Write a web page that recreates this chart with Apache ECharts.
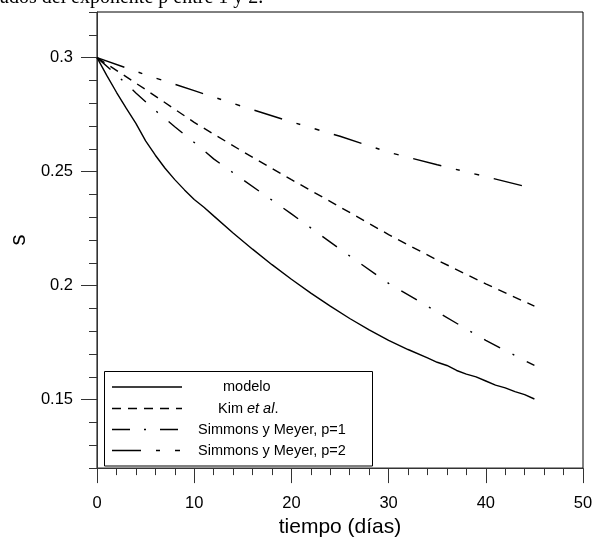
<!DOCTYPE html>
<html>
<head>
<meta charset="utf-8">
<script src="https://cdn.jsdelivr.net/npm/echarts@6/dist/echarts.min.js"></script>
<style>html,body{margin:0;padding:0;background:#fff}#c{width:603px;height:543px}</style>
</head>
<body>
<div id="c"></div>
<script>
// ---- data ----
const modeloDays = [0,1,2,3,4,5,6,7,8,9,10,11,12,14,16,18,20,22,24,26,28,30,32,34,35,36,37,38,39,40,41,42,43,44,45];
const modeloS = [0.3,0.2922,0.2848,0.2778,0.2712,0.2635,0.2572,0.2515,0.2465,0.2420,0.2378,0.2344,0.2306,0.2231,0.2160,0.2092,0.2028,0.1967,0.1910,0.1856,0.1806,0.1760,0.1720,0.1683,0.1664,0.1650,0.1628,0.1612,0.1600,0.1582,0.1564,0.1552,0.1535,0.1522,0.1503];
const kimDays = [0,5,10,15,20,25,30,35,40,45];
const kimS = [0.3,0.2860,0.2716,0.2588,0.2465,0.2345,0.2224,0.2112,0.2008,0.1910];
const p1Days = [0,2,4,6,8,10,12,15,20,25,30,35,40,45];
const p1S = [0.3,0.2925,0.2845,0.2768,0.2697,0.2628,0.2556,0.2465,0.2315,0.2160,0.2010,0.1885,0.1760,0.1650];
const p2Days = [0,5,10,15,20,25,30,35,40,45];
const p2S = [0.3,0.2925,0.2855,0.2785,0.2718,0.2655,0.2585,0.2530,0.2478,0.2425];
const seriesNames = ['modelo','Kim et al.','Simmons y Meyer, p=1','Simmons y Meyer, p=2'];
const yMajorTicks = [0.15,0.2,0.25,0.3];

const pair = (xs, ys) => xs.map((x, i) => [x, ys[i]]);
const dashes = {
  solid: 'solid',
  kim: [9,7],
  p1: [18,14,2,14],
  p2: [29,15,4,15,5,15]
};

const chart = echarts.init(document.getElementById('c'), null, {renderer:'canvas'});
const FONT = 'Liberation Sans';
const axisCol = '#333';

const L = 95.5, R = 583, T = 12, B = 476.7;

function lineSeries(name, data, type){
  return {
    name, type:'line', data, xAxisIndex:0, yAxisIndex:0,
    symbol:'none', smooth:false, silent:true,
    lineStyle:{color:'#000', width:1.4, type}
  };
}

const legendRows = [
  {y:387, dash:null, text:'modelo', tx:223},
  {y:408.5, dash:dashes.kim, text:'{n|Kim }{i|et al}{n|.}', tx:218},
  {y:429.5, dash:dashes.p1, text:'Simmons y Meyer, p=1', tx:198},
  {y:450.5, dash:dashes.p2, text:'Simmons y Meyer, p=2', tx:198}
];
const legendChildren = [{
  type:'rect', shape:{x:104.5, y:371.5, width:268, height:94.5},
  style:{fill:'#fff', stroke:'#000', lineWidth:1}
}];
legendRows.forEach(r => {
  legendChildren.push({
    type:'line', shape:{x1:112, y1:r.y, x2:182, y2:r.y},
    style:{stroke:'#000', lineWidth:1.4, lineDash:r.dash || null}
  });
  legendChildren.push({
    type:'text', x:r.tx, y:r.y,
    style:{text:r.text, fill:'#000', font:'14.5px "Liberation Sans"', verticalAlign:'middle', align:'left',
      rich:{n:{fontSize:14.5, fontFamily:FONT, fill:'#000'}, i:{fontSize:14.5, fontFamily:FONT, fontStyle:'italic', fill:'#000'}}}
  });
});

const option = {
  animation:false,
  backgroundColor:'#fff',
  grid:{left:L, right:603-R, top:T, bottom:543-B, show:true, borderColor:'#000', borderWidth:1, backgroundColor:'transparent'},
  xAxis:[{
    type:'value', min:0, max:50, interval:10,
    name:'tiempo (días)', nameLocation:'middle', nameGap:43,
    nameTextStyle:{fontFamily:FONT, fontSize:21, color:'#000'},
    axisLine:{show:true, onZero:false, lineStyle:{color:axisCol, width:1}},
    axisTick:{show:true, length:15, lineStyle:{color:axisCol, width:1}},
    minorTick:{show:true, splitNumber:5, length:7, lineStyle:{color:axisCol, width:1}},
    axisLabel:{fontFamily:FONT, fontSize:16.5, color:'#000', margin:27},
    splitLine:{show:false}
  }],
  yAxis:[{
    type:'value', min:0.12, max:0.32, interval:0.01,
    axisLine:{show:true, onZero:false, lineStyle:{color:axisCol, width:1}},
    axisTick:{show:true, length:8, lineStyle:{color:axisCol, width:1}},
    axisLabel:{show:false},
    splitLine:{show:false}
  },{
    type:'value', min:0.12, max:0.32, position:'left', offset:0,
    name:'s', nameLocation:'middle', nameGap:64, nameRotate:90,
    nameTextStyle:{fontFamily:FONT, fontSize:22, color:'#000'},
    axisLine:{show:false},
    axisTick:{show:true, length:16, customValues:yMajorTicks, lineStyle:{color:axisCol, width:1}},
    axisLabel:{show:true, customValues:yMajorTicks, fontFamily:FONT, fontSize:16.5, color:'#000', margin:24},
    splitLine:{show:false}
  }],
  series:[
    lineSeries(seriesNames[0], pair(modeloDays, modeloS), dashes.solid),
    lineSeries(seriesNames[1], pair(kimDays, kimS), dashes.kim),
    lineSeries(seriesNames[2], pair(p1Days, p1S), dashes.p1),
    lineSeries(seriesNames[3], pair(p2Days, p2S), dashes.p2)
  ],
  graphic:[
    {type:'text', x:0, y:8, style:{text:'ados del exponente p entre 1 y 2.', font:'20px "Liberation Serif"', fill:'#000', verticalAlign:'bottom'}},
    {type:'group', z:100, children:legendChildren}
  ]
};
chart.setOption(option);
</script>
</body>
</html>
